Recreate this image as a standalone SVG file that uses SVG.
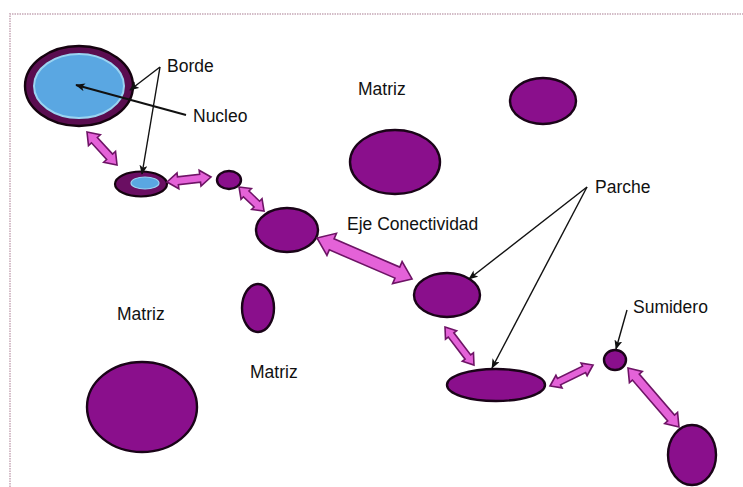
<svg xmlns="http://www.w3.org/2000/svg" width="743" height="487" viewBox="0 0 743 487">
<style>
.patch{fill:#8a0f8c;stroke:#1a0418;stroke-width:2.4}
.lbl{font-family:"Liberation Sans",Arial,sans-serif;font-size:17.5px;fill:#111111}
.fat{fill:#e462d8;stroke:#6e1466;stroke-width:1.6;stroke-linejoin:miter}
.thin{fill:none;stroke:#111;stroke-width:1.4;marker-end:url(#ah)}
.frame{fill:none;stroke:#d3bcc7;stroke-width:2;stroke-dasharray:1.5 1}
</style>
<defs>
<marker id="ah" viewBox="0 0 12 10" refX="11" refY="5" markerWidth="10" markerHeight="8" markerUnits="userSpaceOnUse" orient="auto">
<path d="M0,0 L12,5 L0,10 L3,5 z" fill="#111"/>
</marker>
</defs>
<rect width="743" height="487" fill="#ffffff"/>
<path class="frame" d="M10,487 V14 H743"/>

<g id="nucleo-grande">
<ellipse cx="79" cy="86" rx="54" ry="40" fill="#5a0d50" stroke="#15030f" stroke-width="2.4"/>
<ellipse cx="79" cy="86" rx="45" ry="32" fill="#5aa7e2" stroke="#9ad4f2" stroke-width="2"/>
</g>
<g id="parche-borde">
<ellipse cx="141" cy="184" rx="26" ry="12.5" fill="#6a0e62" stroke="#15030f" stroke-width="2.2"/>
<ellipse cx="145" cy="183" rx="14" ry="6" fill="#5aa7e2" stroke="#9ad4f2" stroke-width="1.2"/>
</g>
<g id="p1"><ellipse class="patch" cx="229" cy="180" rx="12" ry="9"/></g>
<g id="p2"><ellipse class="patch" cx="287" cy="230" rx="31" ry="22"/></g>
<g id="p3"><ellipse class="patch" cx="395" cy="162" rx="45" ry="32"/></g>
<g id="p4"><ellipse class="patch" cx="543" cy="101" rx="33" ry="23"/></g>
<g id="p5"><ellipse class="patch" cx="258" cy="308" rx="16" ry="24"/></g>
<g id="p6"><ellipse class="patch" cx="142" cy="407" rx="55" ry="45"/></g>
<g id="p7"><ellipse class="patch" cx="447" cy="295" rx="33" ry="22"/></g>
<g id="p8"><ellipse class="patch" cx="496" cy="385" rx="49" ry="16"/></g>
<g id="sumidero"><ellipse class="patch" cx="615" cy="360" rx="11" ry="10"/></g>
<g id="p9"><ellipse class="patch" cx="692" cy="455" rx="24" ry="30"/></g>

<g id="connectors">
<path class="fat" transform="translate(87,132) rotate(47.7)" d="M0,0 L11,-8 L11,-4 L33.6,-4 L33.6,-8 L44.6,0 L33.6,8 L33.6,4 L11,4 L11,8 z"/>
<path class="fat" transform="translate(167,182) rotate(-6.5)" d="M0,0 L11,-8 L11,-4 L33.3,-4 L33.3,-8 L44.3,0 L33.3,8 L33.3,4 L11,4 L11,8 z"/>
<path class="fat" transform="translate(239,187) rotate(43.8)" d="M0,0 L10,-7.5 L10,-4 L24.7,-4 L24.7,-7.5 L34.7,0 L24.7,7.5 L24.7,4 L10,4 L10,7.5 z"/>
<path class="fat" transform="translate(317,238) rotate(23.3)" d="M0,0 L16,-12 L16,-6 L87.5,-6 L87.5,-12 L103.5,0 L87.5,12 L87.5,6 L16,6 L16,12 z"/>
<path class="fat" transform="translate(445,327) rotate(52.7)" d="M0,0 L10,-7 L10,-3.5 L37.8,-3.5 L37.8,-7 L47.8,0 L37.8,7 L37.8,3.5 L10,3.5 L10,7 z"/>
<path class="fat" transform="translate(550,386) rotate(-26)" d="M0,0 L10,-7 L10,-3.5 L37.9,-3.5 L37.9,-7 L47.9,0 L37.9,7 L37.9,3.5 L10,3.5 L10,7 z"/>
<path class="fat" transform="translate(628,368) rotate(49.2)" d="M0,0 L12,-8.5 L12,-4.5 L66,-4.5 L66,-8.5 L78,0 L66,8.5 L66,4.5 L12,4.5 L12,8.5 z"/>
<path class="thin" d="M160,67 L130,90"/>
<path class="thin" d="M160,67 L142,174"/>
<path class="thin" d="M186,115 L76,85" style="stroke-width:2"/>
<path class="thin" d="M587,187 L469,279"/>
<path class="thin" d="M587,187 L492,368"/>
<path class="thin" d="M627,310 L616,349"/>
</g>

<g id="labels">
<text class="lbl" x="167" y="72">Borde</text>
<text class="lbl" x="193" y="122">Nucleo</text>
<text class="lbl" x="358" y="95">Matriz</text>
<text class="lbl" x="347" y="230">Eje Conectividad</text>
<text class="lbl" x="595" y="193">Parche</text>
<text class="lbl" x="633" y="313">Sumidero</text>
<text class="lbl" x="117" y="320">Matriz</text>
<text class="lbl" x="250" y="378">Matriz</text>
</g>
</svg>
